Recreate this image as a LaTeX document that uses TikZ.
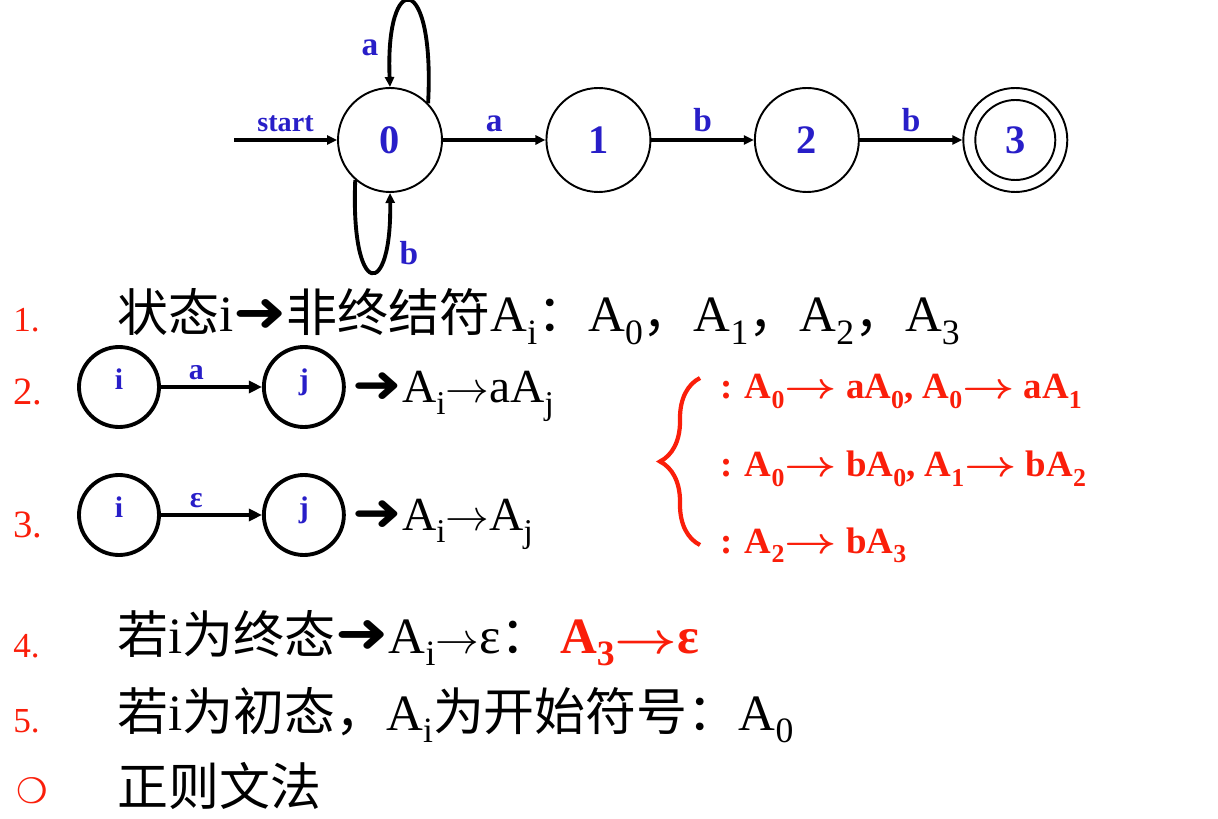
\documentclass[tikz,border=0pt]{standalone}
\usepackage{fontspec}
\usepackage{graphicx}
\usepackage{bm}
\setmainfont{Liberation Serif}
\newfontfamily\cjk{Noto Sans CJK SC}
\newfontfamily\symb{DejaVu Sans}
\usetikzlibrary{arrows.meta,positioning,calc,decorations.pathreplacing}
\definecolor{stateblue}{RGB}{40,30,200}
\definecolor{rulered}{RGB}{250,30,10}
\newcommand{\bigto}{\scalebox{1.25}[1.1]{\symb\bfseries ➜}}
\newcommand{\thinto}{\ensuremath{\rightarrow}}
\newcommand{\boldto}{\scalebox{1.25}[1]{\ensuremath{\bm{\rightarrow}}}}
\newcommand{\idx}[1]{\raisebox{-0.25em}{\scalebox{0.7}{#1}}}

\begin{document}
\begin{tikzpicture}[
    font=\fontsize{29pt}{32pt}\selectfont,
    state/.style={circle, draw, line width=1.1pt, minimum size=2.08cm, inner sep=0pt, text=stateblue, font=\fontsize{23pt}{25pt}\selectfont\bfseries},
    edge/.style={-{Triangle[length=2mm,width=1.8mm]}, line width=2.2pt},
    edgelabel/.style={text=stateblue, font=\fontsize{19pt}{21pt}\selectfont\bfseries},
    smallstate/.style={circle, draw, line width=2.2pt, minimum size=1.6cm, inner sep=0pt, text depth=0.3cm, text=stateblue, font=\fontsize{17pt}{19pt}\selectfont\bfseries},
    smalledge/.style={-{Triangle[length=2.6mm,width=2.4mm]}, line width=1.8pt},
    smalllabel/.style={text=stateblue, font=\fontsize{17pt}{19pt}\selectfont\bfseries},
    textline/.style={anchor=base west, inner sep=0pt},
    number/.style={anchor=base west, inner sep=0pt, text=rulered, font=\fontsize{20pt}{22pt}\selectfont},
    rule/.style={anchor=base west, inner sep=0pt, text=rulered, font=\fontsize{21pt}{23pt}\selectfont\bfseries}
]
\useasboundingbox (0,0) rectangle (24.36,16.36);

\node[state] (s0) at (7.8,13.56) {0};
\node[state, right=2.05cm of s0] (s1) {1};
\node[state, right=2.05cm of s1] (s2) {2};
\node[state, right=2.05cm of s2] (s3) {3};
\node[circle, draw, line width=1.1pt, minimum size=1.6cm] (s3inner) at (s3) {};
\coordinate[left=2.06cm of s0] (init);

\draw[edge] (init) -- node[above, edgelabel, font=\fontsize{16pt}{18pt}\selectfont\bfseries] {start} (s0);
\draw[edge] (s0) -- node[above, edgelabel] {a} (s1);
\draw[edge] (s1) -- node[above, edgelabel] {b} (s2);
\draw[edge] (s2) -- node[above, edgelabel] {b} (s3);
\draw[edge] (s0.44) .. controls +(0.14,2.66) and +(-0.1,2.36) .. (s0.north);
\draw[edge] (s0.229) .. controls +(-0.1,-2.4) and +(0.04,-2.16) .. (s0.south);
\node[edgelabel] (loopa) at ($(s0)+(-0.4,1.84)$) {a};
\node[edgelabel] (loopb) at ($(s0)+(0.38,-2.26)$) {b};

\node[number] (n1) at (0.26,9.72) {1.};
\node[textline] (t1) at (2.34,9.72) {{\cjk 状态}i\bigto{\cjk 非终结符}A\idx{i}{\cjk ：}A\idx{0}{\cjk ，}A\idx{1}{\cjk ，}A\idx{2}{\cjk ，}A\idx{3}};

\node[number, font=\fontsize{22pt}{24pt}\selectfont] (n2) at (0.26,8.26) {2.};
\node[smallstate] (ia) at (2.38,8.62) {i};
\node[smallstate, right=2.02cm of ia] (ja) {j};
\draw[smalledge] (ia) -- node[pos=0.35, above, smalllabel] {a} (ja);
\node[textline, font=\fontsize{27pt}{29pt}\selectfont] (t2) at (7.04,8.3) {\bigto A\idx{i}\thinto aA\idx{j}};

\node[number, font=\fontsize{22pt}{24pt}\selectfont] (n3) at (0.26,5.6) {3.};
\node[smallstate] (ie) at (2.38,6.06) {i};
\node[smallstate, right=2.02cm of ie] (je) {j};
\draw[smalledge] (ie) -- node[pos=0.35, above, smalllabel] {ε} (je);
\node[textline, font=\fontsize{27pt}{29pt}\selectfont] (t3) at (7.04,5.74) {\bigto A\idx{i}\thinto A\idx{j}};

\coordinate (brtop) at (14.0,8.8);
\coordinate (brbot) at (14.0,5.46);
\draw[rulered, line width=2.4pt, decorate, decoration={brace, amplitude=0.8cm}] (brbot) -- (brtop);
\node[rule] (r1) at (14.4,8.38) {: A\idx{0}\boldto{} aA\idx{0}, A\idx{0}\boldto{} aA\idx{1}};
\node[rule] (r2) at (14.4,6.82) {: A\idx{0}\boldto{} bA\idx{0}, A\idx{1}\boldto{} bA\idx{2}};
\node[rule] (r3) at (14.4,5.3) {: A\idx{2}\boldto{} bA\idx{3}};

\node[number] (n4) at (0.26,3.22) {4.};
\node[textline] (t4) at (2.34,3.3) {{\cjk 若}i{\cjk 为终态}\bigto A\idx{i}\thinto ε{\cjk ：}\,{\color{rulered}\bfseries A\idx{3}\boldto ε}};

\node[number] (n5) at (0.26,1.72) {5.};
\node[textline] (t5) at (2.34,1.76) {{\cjk 若}i{\cjk 为初态，}A\idx{i}{\cjk 为开始符号：}A\idx{0}};

\node[number] (n6) at (0.32,0.3) {{\symb\bfseries ❍}};
\node[textline] (t6) at (2.34,0.26) {{\cjk 正则文法}};
\end{tikzpicture}
\end{document}
